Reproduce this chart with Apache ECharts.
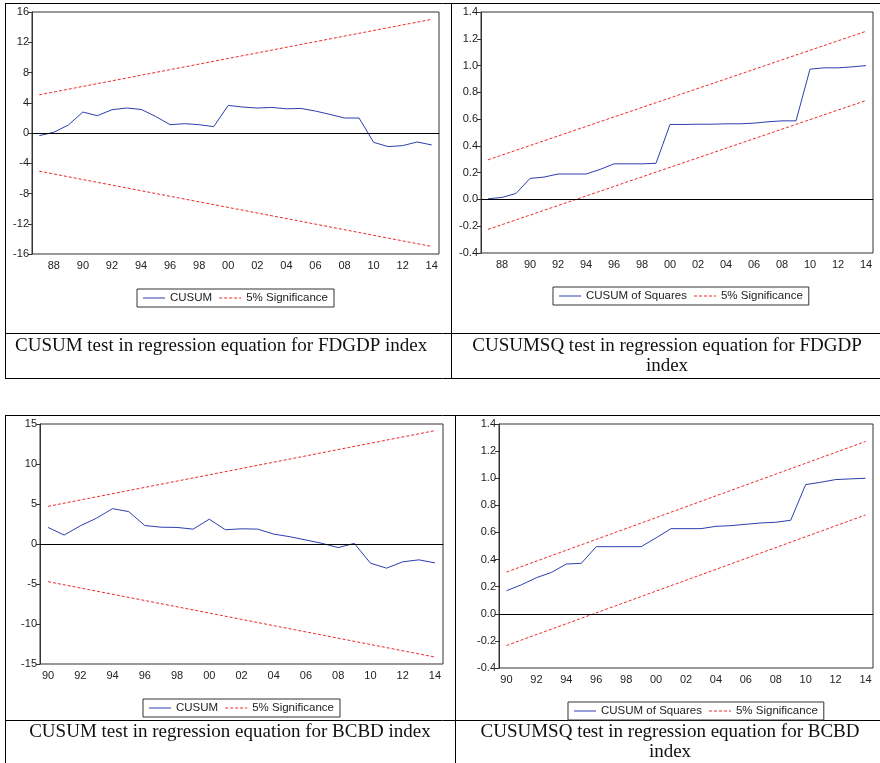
<!DOCTYPE html>
<html>
<head>
<meta charset="utf-8">
<style>
  html, body { margin: 0; padding: 0; background: #fff; }
  #main { width: 880px; height: 763px; }
</style>
<script src="https://cdn.jsdelivr.net/npm/echarts@6/dist/echarts.min.js"></script>
</head>
<body>
<div id="main"></div>
<script>
// years on the x axis (two-digit labels as printed)
var yearsFD = ['87','88','89','90','91','92','93','94','95','96','97','98','99','00',
               '01','02','03','04','05','06','07','08','09','10','11','12','13','14'];
var yearsBC = ['90','91','92','93','94','95','96','97','98','99','00',
               '01','02','03','04','05','06','07','08','09','10','11','12','13','14'];

// CUSUM / CUSUMSQ values
var cusumFD = [-0.35, 0.1, 1.05, 2.77, 2.29, 3.08, 3.3, 3.12, 2.2, 1.1, 1.23, 1.1, 0.84, 3.65,
               3.43, 3.3, 3.38, 3.2, 3.25, 2.9, 2.46, 1.98, 1.98, -1.23, -1.8, -1.67, -1.19, -1.58];
var cusumsqFD = [0.005, 0.015, 0.045, 0.157, 0.167, 0.19, 0.19, 0.19, 0.224, 0.266, 0.266, 0.266, 0.27, 0.56,
                 0.56, 0.562, 0.562, 0.565, 0.565, 0.57, 0.58, 0.587, 0.587, 0.973, 0.983, 0.983, 0.99, 1.0];
var cusumBC = [2.07, 1.12, 2.27, 3.22, 4.42, 4.05, 2.31, 2.1, 2.07, 1.86, 3.1,
               1.78, 1.9, 1.86, 1.24, 0.91, 0.5, 0.08, -0.45, 0.08, -2.4, -3.02, -2.23, -1.98, -2.36];
var cusumsqBC = [0.17, 0.214, 0.266, 0.305, 0.367, 0.372, 0.495, 0.495, 0.495, 0.495, 0.56,
                 0.628, 0.628, 0.628, 0.645, 0.65, 0.66, 0.67, 0.675, 0.69, 0.953, 0.97, 0.99, 0.995, 1.0];

// 5% significance bands: [first year, last year] (straight lines)
var upperFD1 = [5.05, 15.03],  lowerFD1 = [-5.05, -15.0];
var upperFD2 = [0.296, 1.256], lowerFD2 = [-0.224, 0.739];
var upperBC1 = [4.71, 14.17],  lowerBC1 = [-4.71, -14.13];
var upperBC2 = [0.308, 1.271], lowerBC2 = [-0.234, 0.729];

var captions = [
  'CUSUM test in regression equation for FDGDP index',
  'CUSUMSQ test in regression equation for FDGDP\nindex',
  'CUSUM test in regression equation for BCBD index',
  'CUSUMSQ test in regression equation for BCBD\nindex'
];

var SANS = '"Liberation Sans", Arial, sans-serif';
var SERIF = '"Liberation Serif", "Times New Roman", serif';
var BLUE = '#2d3fae';
var RED = '#ee2a2a';

// legend swatches: a plain line and a dashed line
var ICON_SOLID = 'path://M0,0H22V1H0Z';
var ICON_DASH = 'path://M0,0H3V1H0Z M5,0H8V1H5Z M10,0H13V1H10Z M15,0H18V1H15Z M20,0H22V1H20Z';

function ends(pair, n) {
  var out = [];
  for (var i = 0; i < n; i++) out.push(null);
  out[0] = pair[0];
  out[n - 1] = pair[1];
  return out;
}

var grids = [
  { left: 32,  top: 12,  width: 407, height: 242 },
  { left: 481, top: 12,  width: 392, height: 241 },
  { left: 40,  top: 424, width: 403, height: 240 },
  { left: 499, top: 424, width: 374, height: 244 }
];

var panels = [
  { cats: yearsFD, data: cusumFD,   up: upperFD1, lo: lowerFD1, name: 'CUSUM',            min: -16,  max: 16,  step: 4,   dec: 0 },
  { cats: yearsFD, data: cusumsqFD, up: upperFD2, lo: lowerFD2, name: 'CUSUM of Squares', min: -0.4, max: 1.4, step: 0.2, dec: 1 },
  { cats: yearsBC, data: cusumBC,   up: upperBC1, lo: lowerBC1, name: 'CUSUM',            min: -15,  max: 15,  step: 5,   dec: 0 },
  { cats: yearsBC, data: cusumsqBC, up: upperBC2, lo: lowerBC2, name: 'CUSUM of Squares', min: -0.4, max: 1.4, step: 0.2, dec: 1 }
];

var legendPos = [
  { left: 137, top: 289 },
  { left: 553, top: 287 },
  { left: 143, top: 699 },
  { left: 568, top: 702 }
];

var xAxes = [], yAxes = [], series = [], legends = [];

panels.forEach(function (p, k) {
  xAxes.push({
    type: 'category', gridIndex: k, data: p.cats, boundaryGap: true,
    axisLine: { lineStyle: { color: '#333', width: 1 } },
    axisTick: { interval: 0, length: 4, lineStyle: { color: '#333' } },
    axisLabel: {
      interval: function (i, v) { return parseInt(v, 10) % 2 === 0; },
      color: '#222', fontFamily: SANS, fontSize: 11, margin: 6
    },
    splitLine: { show: false }
  });
  yAxes.push({
    type: 'value', gridIndex: k, min: p.min, max: p.max, interval: p.step,
    axisLine: { show: true, lineStyle: { color: '#333', width: 1 } },
    axisTick: { show: true, length: 4, lineStyle: { color: '#333' } },
    axisLabel: {
      color: '#222', fontFamily: SANS, fontSize: 11, margin: 3,
      formatter: function (v) { return v.toFixed(p.dec); }
    },
    splitLine: { show: false }
  });
  series.push({
    name: p.name, type: 'line', xAxisIndex: k, yAxisIndex: k, data: p.data,
    symbol: 'none', lineStyle: { color: BLUE, width: 1 }, itemStyle: { color: BLUE },
    z: 3,
    markLine: {
      silent: true, symbol: 'none', label: { show: false },
      lineStyle: { color: '#000', width: 1, type: 'solid' },
      data: [{ yAxis: 0 }]
    }
  });
  [p.up, p.lo].forEach(function (b) {
    series.push({
      name: '5% Significance', type: 'line', xAxisIndex: k, yAxisIndex: k,
      data: ends(b, p.cats.length), connectNulls: true,
      symbol: 'none', lineStyle: { color: RED, width: 1, type: [3, 2] }, itemStyle: { color: RED },
      z: 2
    });
  });
  legends.push({
    left: legendPos[k].left, top: legendPos[k].top, orient: 'horizontal',
    data: [
      { name: p.name, icon: ICON_SOLID, itemStyle: { color: BLUE } },
      { name: '5% Significance', icon: ICON_DASH, itemStyle: { color: RED } }
    ],
    selectedMode: false,
    borderColor: '#333', borderWidth: 1, padding: [3, 6],
    itemWidth: 22, itemHeight: 1, itemGap: 7,
    textStyle: { fontFamily: SANS, fontSize: 11.5, color: '#222' }
  });
});

// table rules and captions
var graphics = [];
function hline(x1, x2, y) { graphics.push({ type: 'line', silent: true, shape: { x1: x1, y1: y, x2: x2, y2: y }, style: { stroke: '#000', lineWidth: 1 } }); }
function vline(x, y1, y2) { graphics.push({ type: 'line', silent: true, shape: { x1: x, y1: y1, x2: x, y2: y2 }, style: { stroke: '#000', lineWidth: 1 } }); }

hline(5, 880, 3.5); hline(5, 880, 333.5); hline(5, 880, 378.5);
vline(5.5, 3, 379); vline(451.5, 3, 379);
hline(5, 880, 415.5); hline(5, 880, 720.5);
vline(5.5, 415, 763); vline(455.5, 415, 763);

function caption(txt, x, y, align) {
  graphics.push({
    type: 'text', silent: true, x: x, y: y,
    style: { text: txt, font: '19px ' + SERIF, fill: '#111', align: align, verticalAlign: 'top', lineHeight: 20 }
  });
}
caption(captions[0], 15, 336, 'left');
caption(captions[1], 667, 336, 'center');
caption(captions[2], 230, 722, 'center');
caption(captions[3], 670, 722, 'center');

var chart = echarts.init(document.getElementById('main'), null, { renderer: 'canvas' });
chart.setOption({
  animation: false,
  backgroundColor: '#fff',
  grid: grids.map(function (g) {
    return { left: g.left, top: g.top, width: g.width, height: g.height, show: true, borderColor: '#333', borderWidth: 1, backgroundColor: 'transparent' };
  }),
  xAxis: xAxes,
  yAxis: yAxes,
  legend: legends,
  series: series,
  graphic: graphics
});
</script>
</body>
</html>
